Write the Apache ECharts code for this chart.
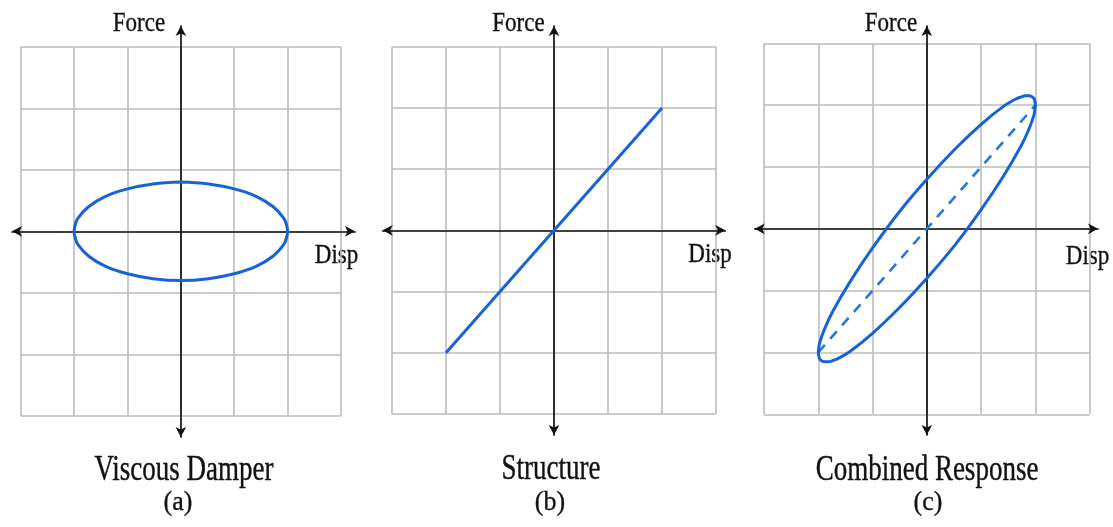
<!DOCTYPE html>
<html>
<head>
<meta charset="utf-8">
<style>html,body{margin:0;background:#fff}#chart{width:1113px;height:527px}</style>
<script src="https://cdn.jsdelivr.net/npm/echarts@6/dist/echarts.min.js"></script>
</head>
<body>
<div id="chart"></div>
<script>
// values, in grid cells (one cell = 1 unit)
var damperDisp  = [0, -0.52, -1.00, -1.41, -1.73, -1.93, -1.98, -2.00, -1.98, -1.93, -1.73, -1.41, -1.00, -0.52,
                   0, 0.52, 1.00, 1.41, 1.73, 1.93, 1.98, 2.00, 1.98, 1.93, 1.73, 1.41, 1.00, 0.52, 0];
var damperForce = [0.80, 0.77, 0.69, 0.57, 0.40, 0.21, 0.10, 0, -0.10, -0.21, -0.40, -0.57, -0.69, -0.77,
                   -0.80, -0.77, -0.69, -0.57, -0.40, -0.21, -0.10, 0, 0.10, 0.21, 0.40, 0.57, 0.69, 0.77, 0.80];

var structDisp  = [-2, 2];
var structForce = [-2, 2];

var combDisp  = [0, -0.52, -1.00, -1.41, -1.64, -1.73, -1.81, -1.88, -1.93, -1.97, -1.99, -2.00, -1.99, -1.97, -1.88, -1.73, -1.41, -1.00, -0.52,
                 0, 0.52, 1.00, 1.41, 1.64, 1.73, 1.81, 1.88, 1.93, 1.97, 1.99, 2.00, 1.99, 1.97, 1.88, 1.73, 1.41, 1.00, 0.52, 0];
var combForce = [-0.80, -1.29, -1.69, -1.98, -2.10, -2.13, -2.15, -2.15, -2.14, -2.11, -2.06, -2.00, -1.92, -1.83, -1.61, -1.33, -0.85, -0.31, 0.26,
                 0.80, 1.29, 1.69, 1.98, 2.10, 2.13, 2.15, 2.15, 2.14, 2.11, 2.06, 2.00, 1.92, 1.83, 1.61, 1.33, 0.85, 0.31, -0.26, -0.80];

var panelTitles = ['Viscous Damper', 'Structure', 'Combined Response'];
var panelTags = ['(a)', '(b)', '(c)'];
var forceName = 'Force';
var dispName = 'Disp';

function pairs(xs, ys) {
    return xs.map(function (x, i) { return [x, ys[i]]; });
}

// grid box [left, top, width, height], arrow extents [left, right, top, bottom], text anchors
var layout = [
    {box: [20.7, 46.7, 320.3, 369.3], arrows: [12, 355, 26, 437], force: [139, 24], disp: [336.5, 256], title: [184, 471], tag: [178, 503]},
    {box: [392, 46.7, 324, 367.3], arrows: [382.7, 725.3, 26, 435], force: [518.5, 24], disp: [710, 255], title: [551, 470], tag: [550, 503]},
    {box: [764, 43.3, 325.7, 371], arrows: [754.7, 1098, 26, 435], force: [891, 24], disp: [1087.5, 257], title: [927, 471], tag: [928, 503]}
];

var blue = '#1763d6';
var ink = '#111';
var serif = '"Liberation Serif", "DejaVu Serif", serif';

var grids = [], xAxes = [], yAxes = [], graphics = [];

function label(text, pos, size, sy) {
    return {type: 'text', x: pos[0], y: pos[1], scaleY: sy,
        style: {text: text, font: size + 'px ' + serif, fill: ink, stroke: ink, lineWidth: 0.3,
            align: 'center', verticalAlign: 'middle', textAlign: 'center', textVerticalAlign: 'middle'}};
}

layout.forEach(function (p, i) {
    var b = p.box, a = p.arrows;
    var ux = b[2] / 6, uy = b[3] / 6;
    var cx = b[0] + b[2] / 2, cy = b[1] + b[3] / 2;

    // checkered grid
    grids.push({left: b[0], top: b[1], width: b[2], height: b[3], outerBoundsMode: 'none'});
    var gridAxis = {
        type: 'value', min: -3, max: 3, interval: 1,
        axisLine: {show: false}, axisTick: {show: false}, axisLabel: {show: false},
        splitLine: {show: true, lineStyle: {color: '#bcbcbc', width: 1.6}}
    };
    xAxes.push(Object.assign({gridIndex: grids.length - 1}, gridAxis));
    yAxes.push(Object.assign({gridIndex: grids.length - 1}, gridAxis));

    // arrowed axes through the origin, longer than the checkered box
    grids.push({left: a[0], top: a[2], width: a[1] - a[0], height: a[3] - a[2], outerBoundsMode: 'none'});
    var arrowAxis = {
        type: 'value',
        axisLine: {show: true, onZero: true, symbol: ['arrow', 'arrow'], symbolSize: [8, 10],
            lineStyle: {color: ink, width: 1.7}},
        axisTick: {show: false}, axisLabel: {show: false}, splitLine: {show: false}
    };
    xAxes.push(Object.assign({gridIndex: grids.length - 1,
        min: (a[0] - cx) / ux, max: (a[1] - cx) / ux}, arrowAxis));
    yAxes.push(Object.assign({gridIndex: grids.length - 1,
        min: -(a[3] - cy) / uy, max: (cy - a[2]) / uy}, arrowAxis));

    graphics.push(
        label(forceName, p.force, 23, 1.2),
        label(dispName, p.disp, 23, 1.2),
        label(panelTitles[i], p.title, 27, 1.3),
        label(panelTags[i], p.tag, 26, 1.05)
    );
});

var lineBase = {type: 'line', showSymbol: false, symbol: 'none', silent: true, animation: false};

var chart = echarts.init(document.getElementById('chart'));
chart.setOption({
    backgroundColor: '#fff',
    animation: false,
    grid: grids,
    xAxis: xAxes,
    yAxis: yAxes,
    graphic: graphics,
    series: [
        Object.assign({}, lineBase, {name: 'Viscous Damper', xAxisIndex: 0, yAxisIndex: 0,
            smooth: 0.4, smoothConstraint: false,
            data: pairs(damperDisp, damperForce), lineStyle: {color: blue, width: 3, join: 'round'}}),
        Object.assign({}, lineBase, {name: 'Structure', xAxisIndex: 2, yAxisIndex: 2,
            data: pairs(structDisp, structForce), lineStyle: {color: blue, width: 3}}),
        Object.assign({}, lineBase, {name: 'Structure (dashed)', xAxisIndex: 4, yAxisIndex: 4,
            data: pairs(structDisp, structForce), lineStyle: {color: '#2477e0', width: 2.6, type: [10, 8]}}),
        Object.assign({}, lineBase, {name: 'Combined Response', xAxisIndex: 4, yAxisIndex: 4,
            smooth: 0.4, smoothConstraint: false,
            data: pairs(combDisp, combForce), lineStyle: {color: blue, width: 3, join: 'round'}})
    ]
});
</script>
</body>
</html>
